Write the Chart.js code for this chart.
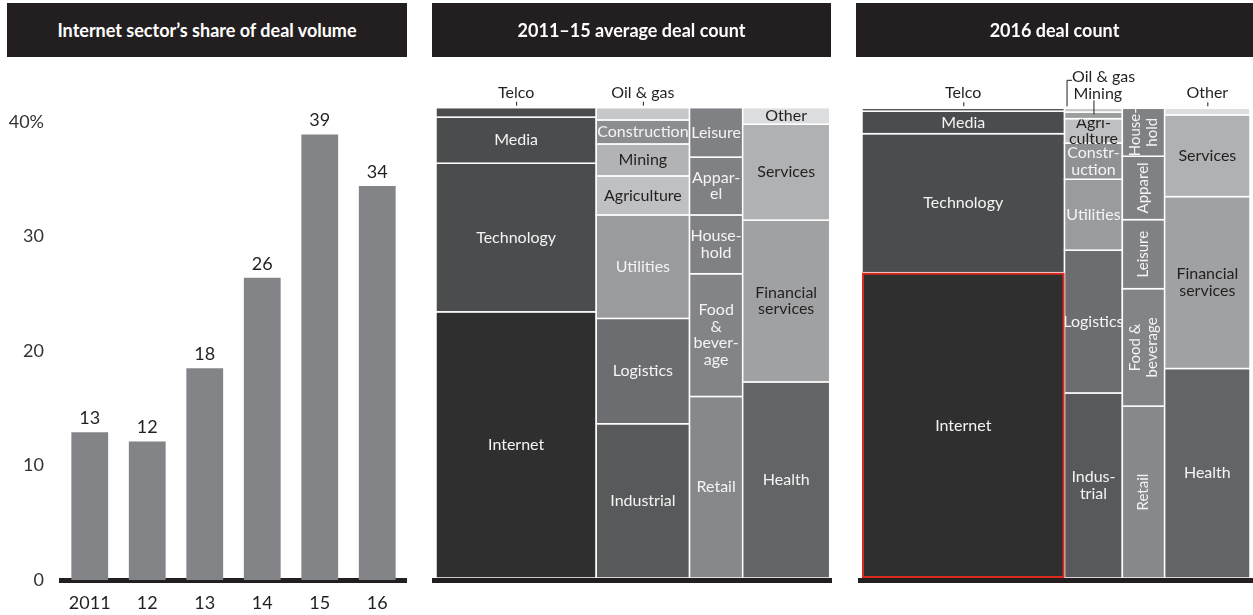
<!DOCTYPE html>
<html lang="en">

<head>
    <meta charset="UTF-8">
    <title>Deal count by sector</title>
    <style>
        body { margin: 0; background: #fff; font-family: Lato, sans-serif; }
        .box { position: absolute; top: 0; height: 615px; }
        .head {
            position: absolute; top: 3px; height: 54px; z-index: 2;
            background: #231f20; color: #fff; font: bold 18px Lato, sans-serif;
            display: flex; align-items: center; justify-content: center;
        }
    </style>
</head>

<body>
    <div class="box" style="left: 0; width: 415px"><canvas id="share-chart"></canvas></div>
    <div class="box" style="left: 420px; width: 420px"><canvas id="avg-chart"></canvas></div>
    <div class="box" style="left: 840px; width: 413px"><canvas id="deal-chart"></canvas></div>

    <div class="head" style="left: 7px; width: 400px">Internet sector’s share of deal volume</div>
    <div class="head" style="left: 432px; width: 399px">2011–15 average deal count</div>
    <div class="head" style="left: 856px; width: 397px">2016 deal count</div>

    <script src="https://cdn.jsdelivr.net/npm/chart.js"></script>

    <script>
        // left panel
        const years = ['2011', '12', '13', '14', '15', '16'];
        const internetShare = [12.9, 12.1, 18.5, 26.4, 38.9, 34.4];
        const shareLabels = ['13', '12', '18', '26', '39', '34'];

        // mosaic panels: column widths (% of deals), sectors bottom to top, shares within column
        const avgWidths = [40.7, 23.7, 13.5, 22.1];
        const widths2016 = [52.2, 14.9, 10.9, 22.0];

        const avgSectors = [
            ['Internet', 'Technology', 'Media', 'Telco'],
            ['Industrial', 'Logistics', 'Utilities', 'Agriculture', 'Mining', 'Construction', 'Oil & gas'],
            ['Retail', 'Food & beverage', 'Household', 'Apparel', 'Leisure'],
            ['Health', 'Financial services', 'Services', 'Other']
        ];
        const avgShares = [
            [56.6, 31.6, 9.8, 2.0],
            [32.8, 22.4, 22.0, 8.3, 6.8, 5.1, 2.6],
            [38.6, 26.1, 12.5, 12.3, 10.5],
            [41.7, 34.4, 20.4, 3.5]
        ];
        const avgLabels = [
            ['Internet', 'Technology', 'Media', ''],
            ['Industrial', 'Logistics', 'Utilities', 'Agriculture', 'Mining', 'Construction', ''],
            ['Retail', 'Food\n&\nbever-\nage', 'House-\nhold', 'Appar-\nel', 'Leisure'],
            ['Health', 'Financial\nservices', 'Services', 'Other']
        ];

        const sectors2016 = [
            ['Internet', 'Technology', 'Media', 'Telco'],
            ['Industrial', 'Logistics', 'Utilities', 'Construction', 'Agriculture', 'Mining', 'Oil & gas'],
            ['Retail', 'Food & beverage', 'Leisure', 'Apparel', 'Household'],
            ['Health', 'Financial services', 'Services', 'Other']
        ];
        const shares2016 = [
            [65.0, 29.6, 4.8, 0.6],
            [39.4, 30.4, 15.1, 7.7, 5.2, 1.4, 0.8],
            [36.6, 25.0, 14.7, 13.5, 10.2],
            [44.6, 36.6, 17.4, 1.4]
        ];
        const labels2016 = [
            ['Internet', 'Technology', 'Media', ''],
            ['Indus-\ntrial', 'Logistics', 'Utilities', 'Constr-\nuction', 'Agri-\nculture', '', ''],
            ['Retail', 'Food &\nbeverage', 'Leisure', 'Apparel', 'House-\nhold'],
            ['Health', 'Financial\nservices', 'Services', '']
        ];

        const sectorColor = {
            'Internet': '#302f30', 'Technology': '#4b4c4e', 'Media': '#4b4c4e', 'Telco': '#4b4c4e',
            'Oil & gas': '#c7c8ca', 'Construction': '#8c8d90', 'Mining': '#b2b3b5', 'Agriculture': '#bfc0c2',
            'Utilities': '#9a9b9e', 'Logistics': '#6c6d70', 'Industrial': '#58595b',
            'Leisure': '#808184', 'Apparel': '#808184', 'Household': '#808184', 'Food & beverage': '#838487', 'Retail': '#87888b',
            'Other': '#dcdddf', 'Services': '#b0b1b3', 'Financial services': '#a0a1a3', 'Health': '#636466'
        };
        const darkText = ['Mining', 'Agriculture', 'Other', 'Services', 'Financial services'];
        const ink = '#231f20';

        const barLabels = {
            id: 'barLabels',
            afterDatasetsDraw(chart) {
                const ctx = chart.ctx;
                ctx.save();
                ctx.font = '18px Lato';
                ctx.fillStyle = ink;
                ctx.textAlign = 'center';
                ctx.textBaseline = 'middle';
                chart.getDatasetMeta(0).data.forEach((bar, i) => {
                    ctx.fillText(shareLabels[i], bar.x, bar.y - 14);
                });
                ctx.restore();
            }
        };

        new Chart(document.getElementById('share-chart'), {
            type: 'bar',
            data: {
                labels: years,
                datasets: [{
                    data: internetShare,
                    backgroundColor: '#838488',
                    barPercentage: 0.64,
                    categoryPercentage: 1
                }]
            },
            options: {
                responsive: true,
                maintainAspectRatio: false,
                animation: false,
                layout: { padding: { top: 122, right: 9 } },
                plugins: { legend: { display: false }, tooltip: { enabled: false } },
                scales: {
                    x: {
                        z: 1,
                        grid: { display: false, drawTicks: false },
                        border: { color: ink, width: 5 },
                        ticks: { color: ink, padding: 12, font: { family: 'Lato', size: 18 } },
                        afterFit(s) { s.height = 35; }
                    },
                    y: {
                        min: 0,
                        max: 40,
                        grid: { display: false, drawTicks: false },
                        border: { display: false },
                        ticks: {
                            stepSize: 10,
                            color: '#333',
                            padding: 17,
                            font: { family: 'Lato', size: 18 },
                            callback: v => v === 40 ? '40%' : v
                        },
                        afterFit(s) { s.width = 61; }
                    }
                }
            },
            plugins: [barLabels]
        });

        const mosaic = {
            id: 'mosaic',
            afterDraw(chart, args, opts) {
                const { ctx, chartArea, scales: { x, y } } = chart;
                ctx.save();
                let x0 = 0;
                const cols = [];
                opts.widths.forEach((w, c) => {
                    const left = x.getPixelForValue(x0);
                    const right = x.getPixelForValue(x0 + w);
                    cols.push({ left, right });
                    const total = opts.shares[c].reduce((a, b) => a + b);
                    let y0 = 0;
                    opts.shares[c].forEach((h, i) => {
                        const name = opts.sectors[c][i];
                        const bottom = y.getPixelForValue(y0 / total * 100);
                        const top = y.getPixelForValue((y0 + h) / total * 100);
                        y0 += h;
                        ctx.fillStyle = opts.colors[name] || sectorColor[name];
                        ctx.fillRect(left, top, right - left, bottom - top);
                        ctx.strokeStyle = '#fff';
                        ctx.lineWidth = 1.5;
                        ctx.strokeRect(left, top, right - left, bottom - top);

                        const text = opts.labels[c][i];
                        if (!text) return;
                        const lines = text.split('\n');
                        ctx.fillStyle = darkText.includes(name) ? ink : '#f4f4f4';
                        ctx.font = (opts.rotated === c ? 15 : 16) + 'px Lato';
                        ctx.textAlign = 'center';
                        ctx.textBaseline = 'middle';
                        ctx.save();
                        ctx.translate((left + right) / 2, (top + bottom) / 2);
                        if (opts.rotated === c) ctx.rotate(-Math.PI / 2);
                        lines.forEach((l, k) => {
                            ctx.fillText(l, 0, (k - (lines.length - 1) / 2) * 16.5);
                        });
                        ctx.restore();
                    });
                    x0 += w;
                });

                if (opts.highlight) {
                    const [c, i] = opts.highlight;
                    const total = opts.shares[c].reduce((a, b) => a + b);
                    const before = opts.shares[c].slice(0, i).reduce((a, b) => a + b, 0);
                    const bottom = y.getPixelForValue(before / total * 100);
                    const top = y.getPixelForValue((before + opts.shares[c][i]) / total * 100);
                    ctx.strokeStyle = '#dc2a1f';
                    ctx.lineWidth = 2;
                    ctx.strokeRect(cols[c].left + 1, top + 1, cols[c].right - cols[c].left - 2, bottom - top - 2);
                }

                // baseline
                ctx.fillStyle = ink;
                ctx.fillRect(chartArea.left - 4, chartArea.bottom, chartArea.width + opts.lineRight + 4, 5);

                // callouts above the columns
                const top = chartArea.top;
                ctx.font = '16px Lato';
                ctx.fillStyle = ink;
                ctx.strokeStyle = ink;
                ctx.lineWidth = 1;
                ctx.textBaseline = 'middle';
                opts.callouts.forEach(o => {
                    const col = cols[o.col];
                    const mid = (col.left + col.right) / 2;
                    ctx.beginPath();
                    if (o.kind === 'bracket') {
                        const bx = col.left + 2.5;
                        ctx.moveTo(bx, top - 2);
                        ctx.lineTo(bx, top - 28);
                        ctx.lineTo(bx + 5, top - 28);
                        ctx.stroke();
                        ctx.textAlign = 'left';
                        ctx.fillText(o.text, bx + 5, top - 31);
                    } else if (o.kind === 'left') {
                        ctx.moveTo(mid + 0.5, top - 8);
                        ctx.lineTo(mid + 0.5, top + 6);
                        ctx.stroke();
                        ctx.textAlign = 'left';
                        ctx.fillText(o.text, col.left + 9, top - 14);
                    } else {
                        ctx.moveTo(mid + 0.5, top - 6);
                        ctx.lineTo(mid + 0.5, top - 2);
                        ctx.stroke();
                        ctx.textAlign = 'center';
                        ctx.fillText(o.text, mid, top - 15);
                    }
                });
                ctx.restore();
            }
        };

        function mosaicChart(id, padding, opts) {
            return new Chart(document.getElementById(id), {
                type: 'scatter',
                data: { datasets: [] },
                options: {
                    responsive: true,
                    maintainAspectRatio: false,
                    animation: false,
                    layout: { padding },
                    plugins: { legend: { display: false }, tooltip: { enabled: false }, mosaic: opts },
                    scales: {
                        x: { type: 'linear', min: 0, max: 100, display: false },
                        y: { type: 'linear', min: 0, max: 100, display: false }
                    }
                },
                plugins: [mosaic]
            });
        }

        mosaicChart('avg-chart', { left: 16, right: 10.3, top: 107.7, bottom: 37 }, {
            widths: avgWidths,
            sectors: avgSectors,
            shares: avgShares,
            labels: avgLabels,
            colors: {},
            lineRight: 2.3,
            callouts: [
                { col: 0, text: 'Telco' },
                { col: 1, text: 'Oil & gas' }
            ]
        });

        mosaicChart('deal-chart', { left: 22, right: 3, top: 108.3, bottom: 37 }, {
            widths: widths2016,
            sectors: sectors2016,
            shares: shares2016,
            labels: labels2016,
            colors: { 'Mining': '#9c9d9f', 'Construction': '#909194' },
            rotated: 2,
            highlight: [0, 0],
            lineRight: 3,
            callouts: [
                { col: 0, text: 'Telco' },
                { col: 1, text: 'Oil & gas', kind: 'bracket' },
                { col: 1, text: 'Mining', kind: 'left' },
                { col: 3, text: 'Other' }
            ]
        });
    </script>
</body>

</html>
